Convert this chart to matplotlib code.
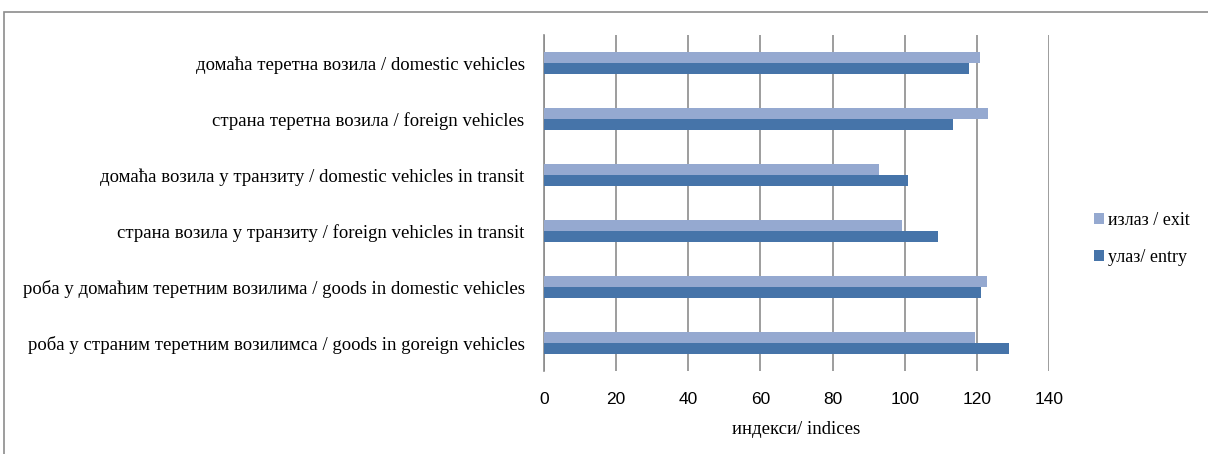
import matplotlib
matplotlib.use('Agg')
import numpy as np
import matplotlib.pyplot as plt
from matplotlib.patches import Rectangle

# categories, top to bottom
categories = [
    'домаћа теретна возила / domestic vehicles',
    'страна теретна возила / foreign vehicles',
    'домаћа возила у транзиту / domestic vehicles in transit',
    'страна возила у транзиту / foreign vehicles in transit',
    'роба у домаћим теретним возилима / goods in domestic vehicles',
    'роба у страним теретним возилимса / goods in goreign vehicles',
]
exit_vals = [121.0, 123.1, 92.9, 99.3, 122.8, 119.4]
entry_vals = [117.9, 113.3, 100.9, 109.1, 121.2, 128.8]
xticks = [0, 20, 40, 60, 80, 100, 120, 140]

serif = 'Liberation Serif'

fig = plt.figure(figsize=(12.08, 4.54), dpi=100)
ax = fig.add_axes([544 / 1208, 1 - 371 / 454, 505 / 1208, 336 / 454])

y = np.arange(len(categories))
h = 0.196
ax.barh(y - h / 2, exit_vals, height=h, color='#95a9d0', label='излаз / exit', zorder=3)
ax.barh(y + h / 2, entry_vals, height=h, color='#4674a9', label='улаз/ entry', zorder=3)

ax.set_ylim(len(categories) - 0.5, -0.5)
ax.set_xlim(0, 140)
ax.set_xticks(xticks)
ax.set_xticklabels([str(t) for t in xticks], fontsize=12.5, family='Liberation Sans')
ax.set_yticks(y)
ax.set_yticklabels(categories, fontsize=13.5, family=serif)
ax.tick_params(axis='both', length=0)
ax.tick_params(axis='x', pad=15)
ax.tick_params(axis='y', pad=14)
ax.xaxis.grid(True, color='#8c8c8c', linewidth=1.2, zorder=0)
for s in ['top', 'right', 'bottom']:
    ax.spines[s].set_visible(False)
ax.spines['left'].set_color('#8c8c8c')
ax.spines['left'].set_linewidth(1.2)

ax.set_xlabel('индекси/ indices', fontsize=13.5, family=serif, labelpad=10)

leg = fig.legend(loc='center left', bbox_to_anchor=(1078 / 1208, 1 - 239 / 454),
                 frameon=False, prop={'family': serif, 'size': 13},
                 handlelength=0.55, handleheight=0.55, handletextpad=0.2,
                 labelspacing=1.1)

# outer chart border
fig.patches.append(Rectangle((4 / 1208, -0.05), 1.1, 1 - 12 / 454 + 0.05,
                             transform=fig.transFigure, fill=False,
                             edgecolor='#8c8c8c', linewidth=1.2))

fig.savefig('out.png', dpi=100)
